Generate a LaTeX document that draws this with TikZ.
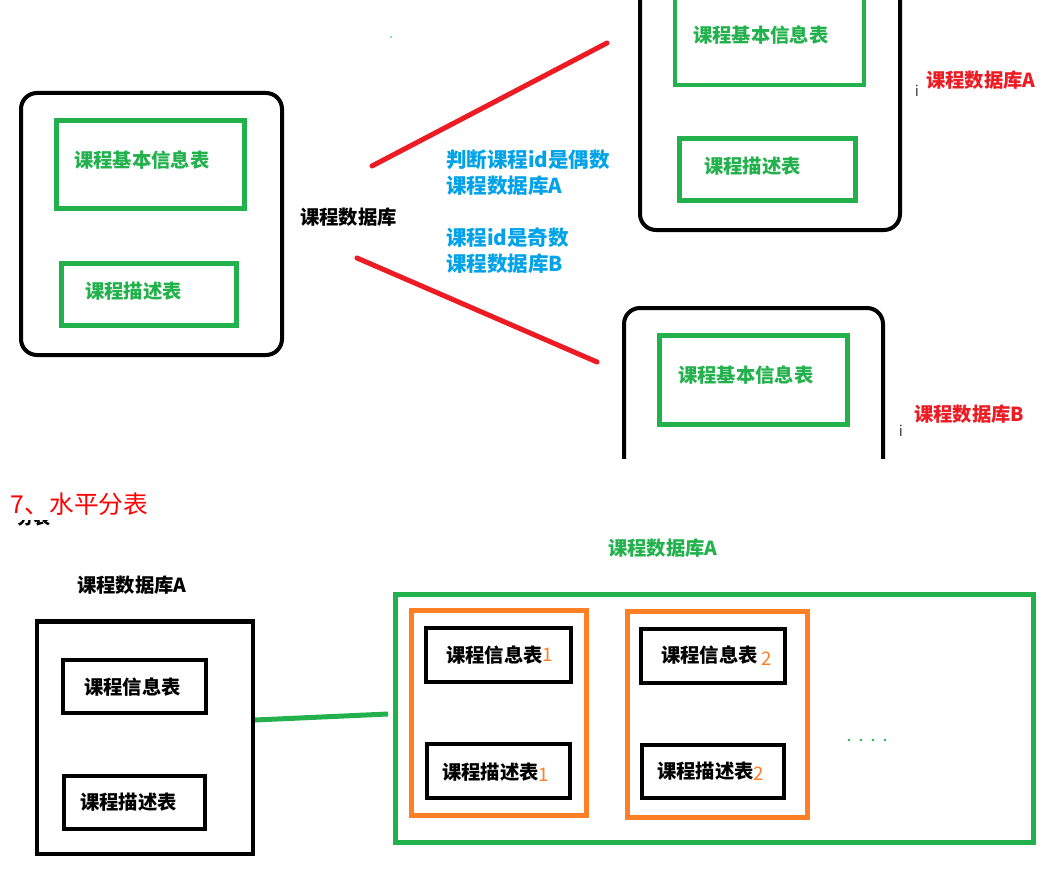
\documentclass[tikz,border=0pt]{standalone}
\usepackage{fontspec}
\setmainfont{Noto Sans CJK SC}
\definecolor{pgreen}{HTML}{22B14C}
\definecolor{pred}{HTML}{ED1C24}
\definecolor{pblue}{HTML}{00A2E8}
\definecolor{porange}{HTML}{FF7F27}
\newcommand\mybox[6]{\node[#6, minimum width={(#4-#2)*0.75pt}, minimum height={(#5-#3)*0.75pt}] (#1) at ({(#2+#4)/2},{(#3+#5)/2}) {};}
\begin{document}
\begin{tikzpicture}[x=0.75pt,y=-0.75pt,
  every node/.style={inner sep=0pt, outer sep=0pt},
  rbox/.style={draw=black, line width=3pt, rounded corners=12pt, rectangle},
  gbox/.style={draw=pgreen, line width=3.4pt, rectangle},
  kbox/.style={draw=black, line width=3.4pt, rectangle},
  obox/.style={draw=porange, line width=3.6pt, rectangle},
  bigg/.style={draw=pgreen, line width=3.75pt, rectangle},
  lbl/.style={anchor=west, font=\bfseries\fontsize{14.5pt}{16pt}\selectfont},
  blbl/.style={anchor=west, text=pblue, font=\bfseries\fontsize{15.4pt}{17pt}\selectfont},
  rlbl/.style={anchor=west, text=pred, font=\bfseries\fontsize{14.5pt}{16pt}\selectfont},
  tiny/.style={text=black!75, font=\fontsize{11pt}{12pt}\selectfont},
  redline/.style={draw=pred, line width=3.75pt, line cap=round},
  num/.style={text=porange, font=\fontsize{14pt}{16pt}\selectfont}
]
\useasboundingbox (0,0) rectangle (1060,874);
\fill[white] (0,0) rectangle (1060,874);
% ---------------- upper section ----------------
\begin{scope}
\clip (0,0) rectangle (1060,458);
\mybox{L}{21}{93}{282}{355}{rbox}
\mybox{L1}{56.5}{120.5}{244.5}{208.5}{gbox}
\mybox{L2}{61.5}{263.5}{236.5}{325.5}{gbox}
\node[lbl, text=pgreen] (L1t) at (74,160) {课程基本信息表};
\node[lbl, text=pgreen] (L2t) at (85,291) {课程描述表};
\node[lbl] (Lt) at (300,217) {课程数据库};
% database A
\mybox{A}{640}{-30}{900}{230}{rbox}
\mybox{A1}{675}{-30}{864}{85}{gbox}
\mybox{A2}{679.5}{138.5}{855.5}{200.5}{gbox}
\node[lbl, text=pgreen] (A1t) at (693,35) {课程基本信息表};
\node[lbl, text=pgreen] (A2t) at (704,166) {课程描述表};
\node[rlbl] (At) at (926,80) {课程数据库A};
\node[tiny] (Ai) at (917,91) {i};
% database B
\mybox{B}{624}{308}{883}{560}{rbox}
\mybox{B1}{659.5}{335.5}{847.5}{424.5}{gbox}
\node[lbl, text=pgreen] (B1t) at (678,375) {课程基本信息表};
\node[rlbl] (Bt) at (914,414) {课程数据库B};
\node[tiny] (Bi) at (901,431) {i};
% red connectors
\coordinate (r1a) at (372,166);
\coordinate (r1b) at (607,43);
\coordinate (r2a) at (357,258);
\coordinate (r2b) at (597,362);
\draw[redline] (r1a) -- (r1b);
\draw[redline] (r2a) -- (r2b);
% blue notes
\node[blbl] (n1) at (446,160) {判断课程id是偶数};
\node[blbl] (n2) at (446,186) {课程数据库A};
\node[blbl] (n3) at (446,238) {课程id是奇数};
\node[blbl] (n4) at (446,264) {课程数据库B};
\fill[pblue] (391,37) circle (0.8);
\end{scope}
% ---------------- lower section ----------------
\node[anchor=west, text=red, font=\fontsize{18.5pt}{20pt}\selectfont] (title) at (11,504) {7、水平分表};
\begin{scope}
\clip (0,520) rectangle (100,530);
\node[anchor=west, font=\bfseries\fontsize{12.5pt}{14pt}\selectfont] (cut) at (17,518) {分表};
\end{scope}
\node[lbl] (Dt) at (77,585) {课程数据库A};
\mybox{D}{37}{621.5}{253}{854}{kbox}
\mybox{D1}{63}{660}{206}{713}{kbox}
\mybox{D2}{64}{776}{205}{829}{kbox}
\node[lbl] (D1t) at (84,687) {课程信息表};
\node[lbl] (D2t) at (80,802) {课程描述表};
\node[lbl, text=pgreen] (Gt) at (608,548) {课程数据库A};
\mybox{G}{395.5}{594.5}{1033.5}{842.5}{bigg}
\mybox{O1}{411.5}{610.5}{586.5}{815.5}{obox}
\mybox{O2}{627.5}{611.5}{807.5}{817.5}{obox}
\mybox{T1}{426}{628}{571}{682}{kbox}
\mybox{T2}{427}{744}{570}{798}{kbox}
\mybox{T3}{641}{629}{785}{683}{kbox}
\mybox{T4}{642}{745}{784}{798}{kbox}
\node[lbl] (T1t) at (446,655) {课程信息表};
\node[num, anchor=west] (T1n) at (T1t.east) {1};
\node[lbl] (T2t) at (442,772) {课程描述表};
\node[num, anchor=west] (T2n) at ([yshift=-2pt]T2t.east) {1};
\node[lbl] (T3t) at (661,655) {课程信息表};
\node[num, anchor=west] (T3n) at ([xshift=3pt,yshift=-3pt]T3t.east) {2};
\node[lbl] (T4t) at (657,771) {课程描述表};
\node[num, anchor=west] (T4n) at ([yshift=-2pt]T4t.east) {2};
% dots
\foreach \i in {0,1,2,3} \fill[pgreen] ({849+12*\i},740) circle (1.3);
% green connector
\coordinate (ga) at (255,720);
\coordinate (gb) at (388,714);
\draw[draw=pgreen, line width=3.75pt] (ga) -- (gb);
\end{tikzpicture}
\end{document}
